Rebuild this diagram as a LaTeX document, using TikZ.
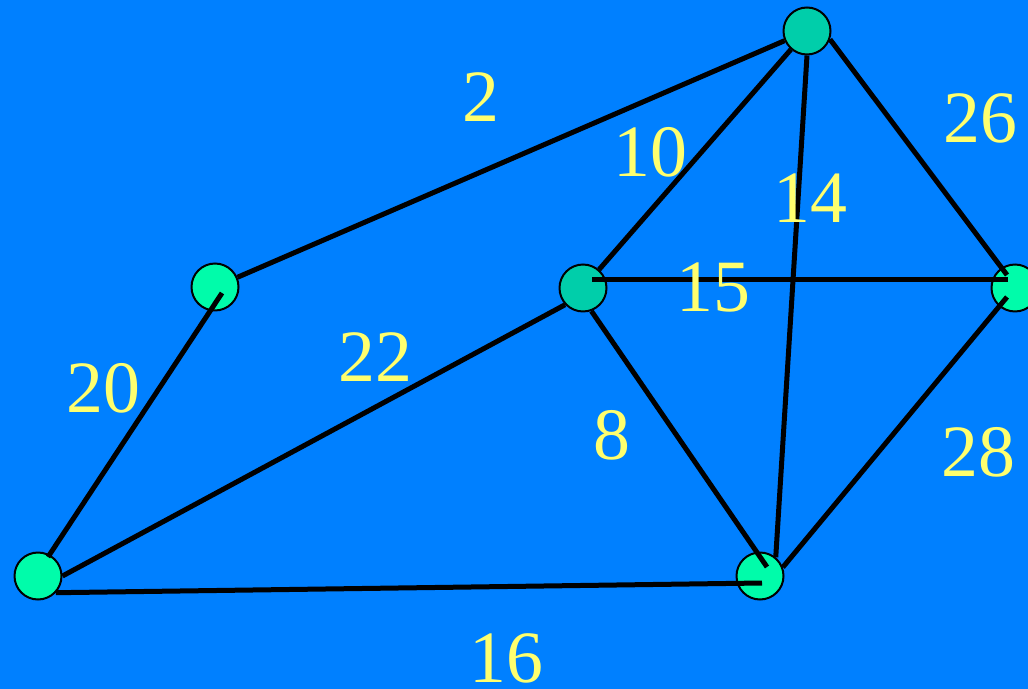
\documentclass[tikz,border=0pt]{standalone}
\usepackage{fontspec}
\setmainfont{Liberation Serif}
\usetikzlibrary{positioning}
\definecolor{bgblue}{RGB}{0,128,255}
\definecolor{vgreen}{RGB}{0,252,170}
\definecolor{vteal}{RGB}{0,206,170}
\definecolor{wyellow}{RGB}{255,255,110}
\tikzset{
  vert/.style={
    shape = circle,
    draw,
    line width = 0.04cm,
    minimum size = 0.94cm,
    inner sep = 0pt,
    fill = vgreen
  },
  vertdark/.style={
    vert,
    fill = vteal
  },
  road/.style={
    line width = 0.1cm
  },
  wt/.style={
    text = wyellow,
    inner sep = 0pt,
    font = \fontsize{42}{48}\selectfont
  },
}

\begin{document}
\begin{tikzpicture}[x=0.02cm,y=-0.02cm]
\fill[bgblue] (0,0) rectangle (1028,689);
\useasboundingbox (0,0) rectangle (1028,689);
\clip (0,0) rectangle (1028,689);
% vertices
\node[vert] (A) at (215,287) {};
\node[vert] (B) at (38,576) {};
\node[vertdark] (C) at (583,288) {};
\node[vertdark] (D) at (807,31) {};
\node[vert] (E) at (1015,288) {};
\node[vert] (F) at (760,576) {};
% edges
\draw[road] (A) -- (D);
\draw[road] ([shift={(7,6)}]A.center) -- ([shift={(10,-19)}]B.center);
\draw[road] (B.east) -- (C.223);
\draw[road] (B.-43) -- ([shift={(2,7)}]F.center);
\draw[road] ([shift={(9,-8)}]C.center) -- ([shift={(-7,-8)}]E.center);
\draw[road] (C) -- (D);
\draw[road] (C.-70) -- ([shift={(7,-9)}]F.center);
\draw[road] (D.south) -- (F.50);
\draw[road] (D.-20) -- ([shift={(-8,-13)}]E.center);
\draw[road] (F.21) -- ([shift={(-8,9)}]E.center);
% weights
\node[wt] (w2) at (481,97) {2};
\node[wt] (w10) at (650,152) {10};
\node[wt] (w26) at (980,118) {26};
\node[wt] (w14) at (810,198) {14};
\node[wt] (w15) at (713,288) {15};
\node[wt] (w22) at (375,357) {22};
\node[wt] (w20) at (103,388) {20};
\node[wt] (w8) at (612,435) {8};
\node[wt] (w28) at (978,452) {28};
\node[wt] (w16) at (506,658) {16};
\end{tikzpicture}
\end{document}
